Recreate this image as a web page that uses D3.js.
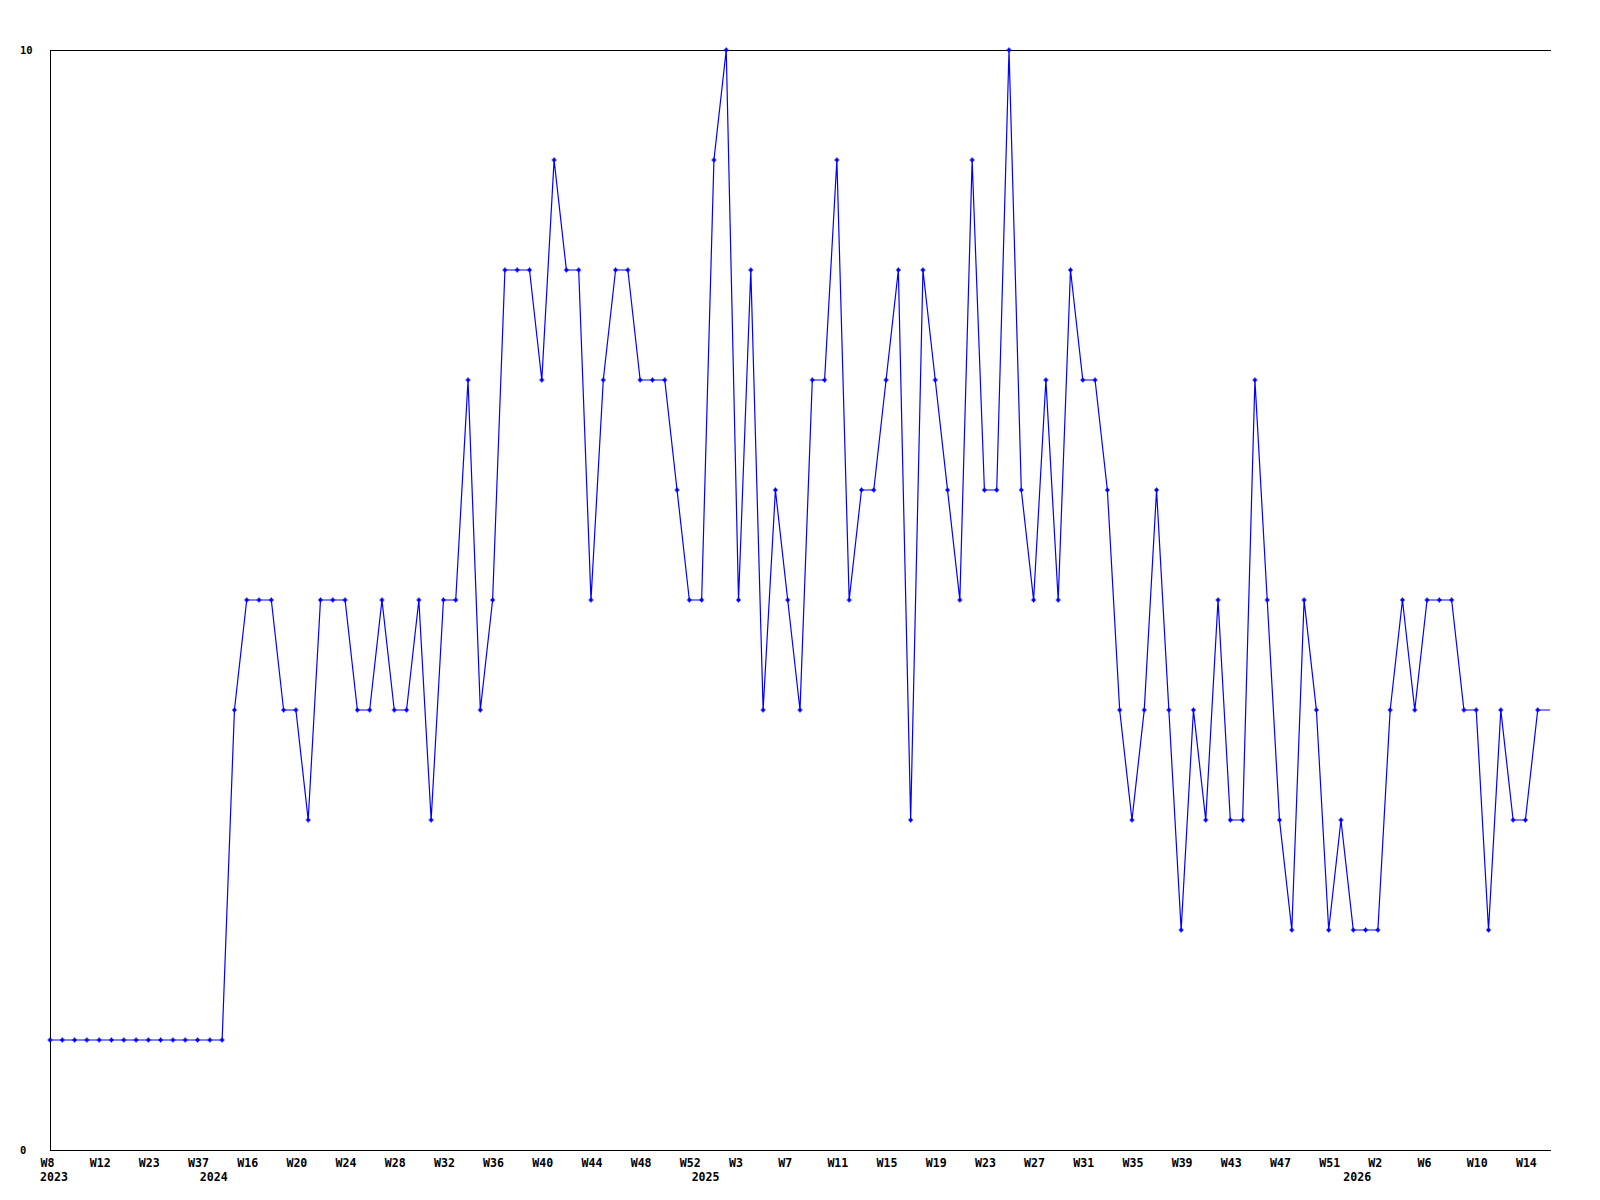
<!DOCTYPE html>
<html>
<head>
<meta charset="utf-8">
<script src="https://cdn.jsdelivr.net/npm/d3@7"></script>
<style>
  html, body { margin: 0; padding: 0; background: #fff; }
  svg { display: block; }
  text { font-family: "DejaVu Sans Mono", "Liberation Mono", monospace; font-weight: bold; fill: #000; }
</style>
</head>
<body>
<svg id="chart" width="1600" height="1200"></svg>
<script>
// Week categories (year-week), in plotted order
const categories = [
  "2023-W8","2023-W9","2023-W10","2023-W11","2023-W12","2023-W14","2023-W17","2023-W20","2023-W23","2023-W26","2023-W30","2023-W33","2023-W37",
  "2024-W13","2024-W14","2024-W15","2024-W16","2024-W17","2024-W18","2024-W19","2024-W20","2024-W21","2024-W22","2024-W23","2024-W24",
  "2024-W25","2024-W26","2024-W27","2024-W28","2024-W29","2024-W30","2024-W31","2024-W32","2024-W33","2024-W34","2024-W35","2024-W36",
  "2024-W37","2024-W38","2024-W39","2024-W40","2024-W41","2024-W42","2024-W43","2024-W44","2024-W45","2024-W46","2024-W47","2024-W48",
  "2024-W49","2024-W50","2024-W51","2024-W52",
  "2025-W0","2025-W1","2025-W2","2025-W3","2025-W4","2025-W5","2025-W6","2025-W7","2025-W8","2025-W9","2025-W10","2025-W11",
  "2025-W12","2025-W13","2025-W14","2025-W15","2025-W16","2025-W17","2025-W18","2025-W19","2025-W20","2025-W21","2025-W22","2025-W23",
  "2025-W24","2025-W25","2025-W26","2025-W27","2025-W28","2025-W29","2025-W30","2025-W31","2025-W32","2025-W33","2025-W34","2025-W35",
  "2025-W36","2025-W37","2025-W38","2025-W39","2025-W40","2025-W41","2025-W42","2025-W43","2025-W44","2025-W45","2025-W46","2025-W47",
  "2025-W48","2025-W49","2025-W50","2025-W51","2025-W52",
  "2026-W0","2026-W1","2026-W2","2026-W3","2026-W4","2026-W5","2026-W6","2026-W7","2026-W8","2026-W9","2026-W10","2026-W11",
  "2026-W12","2026-W13","2026-W14","2026-W15","2026-W16"
];

// Weekly values
const values = [
  1,1,1,1,1,1,1,1,1,1,
  1,1,1,1,1,4,5,5,5,4,
  4,3,5,5,5,4,4,5,4,4,
  5,3,5,5,7,4,5,8,8,8,
  7,9,8,8,5,7,8,8,7,7,
  7,6,5,5,9,10,5,8,4,6,
  5,4,7,7,9,5,6,6,7,8,
  3,8,7,6,5,9,6,6,10,6,
  5,7,5,8,7,7,6,4,3,4,
  6,4,2,4,3,5,3,3,7,5,
  3,2,5,4,2,3,2,2,2,4,
  5,4,5,5,5,4,4,2,4,3,
  3,4,4
];

// Labeled x ticks (every 4th week)
const tickCategories = [
  "2023-W8","2023-W12","2023-W23","2023-W37","2024-W16","2024-W20","2024-W24","2024-W28","2024-W32","2024-W36",
  "2024-W40","2024-W44","2024-W48","2024-W52","2025-W3","2025-W7","2025-W11","2025-W15","2025-W19","2025-W23",
  "2025-W27","2025-W31","2025-W35","2025-W39","2025-W43","2025-W47","2025-W51","2026-W2","2026-W6","2026-W10","2026-W14"
];

// Year labels and the first week of each year
const yearLabels = ["2023","2024","2025","2026"];
const yearStartCategories = ["2023-W8","2024-W13","2025-W0","2026-W0"];

// Y ticks
const yTicks = [0, 10];

(function draw() {
  const svg = d3.select("#chart");
  const mLeft = 50, mRight = 1550, mTop = 50, mBottom = 1150;

  const x = d3.scalePoint().domain(categories).range([mLeft, mRight]);
  const y = d3.scaleLinear().domain([0, 10]).range([mBottom, mTop]);

  svg.append("rect").attr("width", 1600).attr("height", 1200).attr("fill", "#fff");

  // top reference line at max value
  svg.append("line")
    .attr("x1", mLeft).attr("x2", mRight + 1)
    .attr("y1", y(10) + 0.5).attr("y2", y(10) + 0.5)
    .attr("stroke", "#000").attr("stroke-width", 1)
    .attr("shape-rendering", "crispEdges");

  // X axis
  const xAxis = d3.axisBottom(x)
    .tickValues(tickCategories)
    .tickSize(0)
    .tickSizeOuter(0)
    .tickFormat(d => d.split("-")[1]);

  const gx = svg.append("g")
    .attr("transform", `translate(0,${mBottom})`)
    .call(xAxis);
  gx.select(".domain").attr("stroke", "#000").attr("shape-rendering", "crispEdges")
    .attr("d", `M${mLeft},0.5H${mRight + 1}`);
  gx.selectAll(".tick text")
    .attr("text-anchor", "start")
    .attr("x", -10)
    .attr("y", 17)
    .attr("dy", 0)
    .attr("font-size", 11.6)
    .style("font-family", "'DejaVu Sans Mono', monospace")
    .style("font-weight", "bold")
    .attr("fill", "#000");

  // Year labels
  svg.append("g").selectAll("text")
    .data(yearLabels)
    .join("text")
    .attr("x", (d, i) => x(yearStartCategories[i]) - 10)
    .attr("y", mBottom + 31)
    .attr("text-anchor", "start")
    .attr("font-size", 11.6)
    .text(d => d);

  // Y axis
  const yAxis = d3.axisLeft(y).tickValues(yTicks).tickSize(0).tickSizeOuter(0).tickFormat(d3.format("d"));
  const gy = svg.append("g").attr("transform", `translate(${mLeft},0)`).call(yAxis);
  gy.select(".domain").attr("stroke", "#000").attr("shape-rendering", "crispEdges")
    .attr("d", `M0.5,${mTop}V${mBottom}`);
  gy.selectAll(".tick text")
    .attr("text-anchor", "start")
    .attr("x", -30)
    .attr("dy", "0.36em")
    .attr("font-size", 10.5)
    .style("font-family", "'DejaVu Sans Mono', monospace")
    .style("font-weight", "bold")
    .attr("fill", "#000");

  // Line
  const data = categories.map((c, i) => ({ c, v: values[i] }));
  const line = d3.line().x(d => x(d.c)).y(d => y(d.v));

  svg.append("path")
    .datum(data)
    .attr("d", line)
    .attr("fill", "none")
    .attr("stroke", "#0000ff")
    .attr("stroke-width", 1.2);

  // Markers (the final, in-progress week has no marker)
  const markerPath = "M-2.5,-0.6H2.5V0.6H-2.5Z M-0.6,-2.5H0.6V2.5H-0.6Z M-1.5,-1.5H1.5V1.5H-1.5Z";
  svg.append("g").selectAll("path")
    .data(data.slice(0, -1))
    .join("path")
    .attr("transform", d => `translate(${x(d.c)},${y(d.v)})`)
    .attr("d", markerPath)
    .attr("fill", "#0000ff");
})();
</script>
</body>
</html>
